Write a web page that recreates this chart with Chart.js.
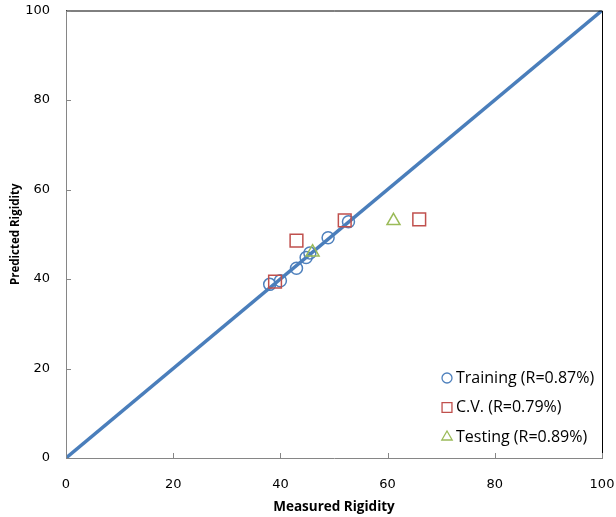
<!DOCTYPE html>
<html>
<head>
<meta charset="utf-8">
<script src="https://cdn.jsdelivr.net/npm/chart.js@4/dist/chart.umd.min.js"></script>
<style>
  html, body { margin:0; padding:0; background:#fff; }
  #wrap { width:616px; height:517px; position:relative; }
</style>
</head>
<body>
<div id="wrap"><canvas id="js-chart"></canvas></div>
<script>
  /* ━━━━  DATA  ━━━━ */
  const trainingX = [38.0, 40.0, 43.0, 44.8, 45.5, 48.9, 52.7];
  const trainingY = [38.8, 39.6, 42.4, 44.8, 45.8, 49.2, 52.8];
  const cvX       = [39.0, 43.0, 52.0, 65.9];
  const cvY       = [39.4, 48.6, 53.1, 53.3];
  const testX     = [46.0, 61.1];
  const testY     = [46.0, 53.0];
  const refLine   = [0, 100];
  const tickVals  = [0, 20, 40, 60, 80, 100];
  const seriesNames = ['Training (R=0.87%)', 'C.V. (R=0.79%)', 'Testing (R=0.89%)'];

  const BLUE = '#4f81bd', RED = '#c0504d', GREEN = '#9bbb59', LINE = '#4a7ebb';
  const pts = (xs, ys) => xs.map((x, i) => ({ x, y: ys[i] }));

  /* frame: black top/right border, inward ticks, legend inside plot */
  const framePlugin = {
    id: 'frame',
    afterDraw(chart) {
      const { ctx, chartArea: a, scales } = chart;
      ctx.save();
      ctx.strokeStyle = '#000';
      ctx.lineWidth = 1;
      ctx.beginPath();
      ctx.moveTo(a.left, a.top + 0.5); ctx.lineTo(a.right + 0.5, a.top + 0.5);
      ctx.lineTo(a.right + 0.5, a.bottom);
      ctx.stroke();

      ctx.strokeStyle = '#868686';
      ctx.beginPath();
      tickVals.forEach(v => {
        const px = Math.round(scales.x.getPixelForValue(v)) + 0.5;
        ctx.moveTo(px, a.bottom); ctx.lineTo(px, a.bottom - 5);
        const py = Math.round(scales.y.getPixelForValue(v)) + 0.5;
        ctx.moveTo(a.left, py); ctx.lineTo(a.left + 5, py);
      });
      ctx.stroke();

      // legend
      const lx = a.right - 155, ly0 = a.bottom - 80, step = 29.5;
      const legendSets = [chart.data.datasets[0], chart.data.datasets[2], chart.data.datasets[3]];
      ctx.font = "16px 'Open Sans'";
      ctx.textBaseline = 'middle';
      legendSets.forEach((ds, i) => {
        const y = ly0 + i * step;
        ctx.lineWidth = 1.3;
        ctx.strokeStyle = ds.borderColor;
        ctx.fillStyle = 'rgba(0,0,0,0)';
        Chart.helpers.drawPoint(ctx, {
          pointStyle: ds.pointStyle,
          radius: ds.pointStyle === 'rect' ? 7 : (ds.pointStyle === 'triangle' ? 6 : 5),
          borderWidth: 1.3
        }, lx, y);
        ctx.fillStyle = '#000';
        ctx.fillText(seriesNames[i], lx + 9, y);
      });
      ctx.restore();
    }
  };

  const axisFont = { family: 'DejaVu Sans', size: 13 };

  new Chart(document.getElementById('js-chart').getContext('2d'), {
    type: 'scatter',
    data: {
      datasets: [
        {
          label: seriesNames[0],
          data: pts(trainingX, trainingY),
          pointStyle: 'circle', pointRadius: 6,
          borderColor: BLUE, backgroundColor: 'transparent', borderWidth: 1.5,
          order: 4
        },
        {
          label: 'line',
          data: pts(refLine, refLine),
          type: 'line', showLine: true, pointRadius: 0,
          borderColor: LINE, borderWidth: 3.5, fill: false,
          order: 3
        },
        {
          label: seriesNames[1],
          data: pts(cvX, cvY),
          pointStyle: 'rect', pointRadius: 9,
          borderColor: RED, backgroundColor: 'transparent', borderWidth: 1.5,
          order: 2
        },
        {
          label: seriesNames[2],
          data: pts(testX, testY),
          pointStyle: 'triangle', pointRadius: 7.5,
          borderColor: GREEN, backgroundColor: 'transparent', borderWidth: 1.5,
          order: 1
        }
      ]
    },
    options: {
      responsive: true,
      maintainAspectRatio: false,
      animation: false,
      layout: { padding: { left: 0, right: 14, top: 10, bottom: 0 } },
      plugins: { legend: { display: false }, tooltip: { enabled: false } },
      scales: {
        x: {
          type: 'linear', min: 0, max: 100,
          afterBuildTicks: s => { s.ticks = tickVals.map(v => ({ value: v })); },
          afterFit: s => { s.height = 59; s.paddingLeft = 0; s.paddingRight = 0; },
          grid: { display: false, drawTicks: false },
          border: { display: true, color: '#868686', width: 1 },
          ticks: { color: '#000', font: axisFont, padding: 19, maxRotation: 0 },
          title: { display: true, text: 'Measured Rigidity', color: '#000',
                   font: { family: 'Open Sans', size: 13.5, weight: 'bold' }, padding: { top: 0, bottom: 2 } }
        },
        y: {
          type: 'linear', min: 0, max: 100,
          afterBuildTicks: s => { s.ticks = tickVals.map(v => ({ value: v })); },
          afterFit: s => { s.width = 66; s.paddingTop = 0; s.paddingBottom = 0; },
          grid: { display: false, drawTicks: false },
          border: { display: true, color: '#868686', width: 1 },
          ticks: { color: '#000', font: axisFont, padding: 16 },
          title: { display: true, text: 'Predicted Rigidity', color: '#000',
                   font: { family: 'Open Sans', size: 11.5, weight: 'bold' }, padding: { top: 9, bottom: 0 } }
        }
      }
    },
    plugins: [framePlugin]
  });
</script>
</body>
</html>
